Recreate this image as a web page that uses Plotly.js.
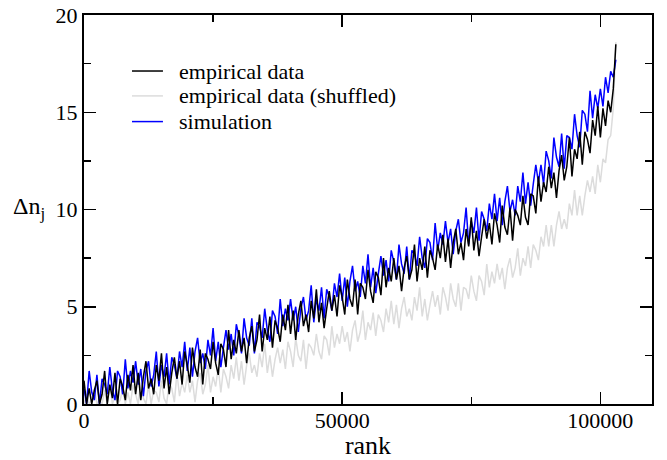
<!DOCTYPE html>
<html>
<head>
<meta charset="utf-8">
<script src="https://cdn.plot.ly/plotly-3.0.1.min.js"></script>
<style>
  html, body { margin: 0; padding: 0; background: #fff; }
  #chart { width: 667px; height: 460px; }
  #chart svg text, #chart svg tspan { font-family: 'Liberation Serif', 'Times New Roman', serif !important; }
  #fontwarm { position: absolute; left: 610px; top: 446px; font-size: 9px; line-height: 10px; color: #fff; white-space: nowrap; }
</style>
</head>
<body>
<div id="chart"></div>
<div id="fontwarm"><span style="font-family:'Liberation Serif'">r</span><span style="font-family:'Times New Roman'">r</span><span style="font-family:serif">r</span></div>
<script>
// ranks: first rank and spacing between consecutive samples
const RANK_START = 0;
const RANK_STEP = 500;

const legendLabels = ['empirical data', 'empirical data (shuffled)', 'simulation'];
const seriesColors = ['#000000', '#dcdcdc', '#0000ff'];

const xTickVals = [0, 50000, 100000];
const yTickVals = [0, 5, 10, 15, 20];

// empirical data (black), one value per RANK_STEP
const empirical = [
  1.2, 0.0, 0.8, 0.0, 0.7, 1.2, 0.0, 0.5, 1.7, 0.0,
  1.0, 0.3, 1.6, 0.0, 1.3, 0.9, 0.2, 1.5, 0.7, 2.0,
  0.5, 1.6, 0.2, 1.4, 2.2, 0.8, 1.3, 0.5, 2.0, 1.2,
  2.6, 0.8, 1.9, 0.5, 1.6, 2.4, 1.3, 2.2, 1.0, 2.7,
  2.0, 1.1, 2.9, 1.9, 1.4, 2.8, 1.0, 2.6, 2.3, 1.8,
  3.2, 2.1, 1.5, 3.1, 2.8, 1.9, 3.8, 2.3, 3.3, 2.6,
  3.8, 2.7, 3.4, 2.1, 3.4, 4.0, 2.7, 3.3, 4.6, 2.7,
  3.9, 3.3, 4.5, 2.9, 4.3, 3.9, 3.2, 4.6, 3.8, 5.1,
  3.6, 4.8, 3.3, 4.6, 5.3, 4.0, 4.6, 3.7, 5.3, 4.4,
  5.9, 4.2, 5.2, 3.9, 4.9, 5.8, 4.8, 5.6, 4.5, 6.1,
  5.5, 4.6, 6.4, 5.4, 5.0, 6.4, 4.6, 6.2, 6.0, 5.4,
  6.9, 5.8, 5.2, 6.8, 6.5, 5.6, 7.5, 6.0, 7.0, 6.3,
  7.5, 6.4, 7.1, 5.8, 7.0, 7.6, 6.4, 6.9, 8.2, 6.3,
  7.5, 6.9, 8.1, 6.5, 7.9, 7.5, 6.9, 8.2, 7.5, 8.7,
  7.3, 8.5, 7.0, 8.3, 9.0, 7.7, 8.3, 7.4, 9.0, 8.1,
  9.6, 7.9, 8.9, 7.6, 8.6, 9.5, 8.5, 9.3, 8.2, 9.8,
  9.2, 8.3, 10.2, 9.1, 8.7, 10.1, 8.4, 10.0, 9.7, 9.2,
  10.7, 9.6, 9.2, 10.8, 10.7, 9.8, 11.7, 10.4, 11.4, 10.9,
  12.2, 11.1, 11.9, 10.6, 12.0, 12.8, 11.5, 12.2, 13.7, 11.7,
  13.1, 12.6, 14.0, 12.3, 14.0, 13.6, 12.9, 14.6, 13.8, 15.3,
  13.7, 15.2, 14.3, 15.6, 15.0, 16.2, 18.5
];

// empirical data (shuffled) (light gray)
const shuffled = [
  0.0, 0.5, 0.0, 0.2, 0.8, 0.0, 0.2, 0.0, 0.7, 0.0,
  1.1, 0.0, 0.4, 0.0, 0.2, 0.8, 0.0, 0.6, 0.0, 1.0,
  0.5, 0.0, 1.1, 0.3, 0.0, 1.0, 0.0, 0.7, 0.6, 0.1,
  1.2, 0.3, 0.0, 1.1, 0.8, 0.1, 1.6, 0.4, 1.1, 0.6,
  1.5, 0.6, 1.2, 0.1, 1.2, 1.6, 0.5, 1.0, 2.0, 0.6,
  1.4, 0.9, 1.9, 0.6, 1.8, 1.4, 0.8, 2.0, 1.3, 2.4,
  1.2, 2.2, 1.0, 2.0, 2.6, 1.6, 2.0, 1.4, 2.6, 1.9,
  3.1, 1.6, 2.5, 1.4, 2.3, 2.9, 2.1, 2.8, 1.8, 3.2,
  2.7, 1.9, 3.4, 2.5, 2.2, 3.3, 1.8, 3.1, 2.9, 2.5,
  3.6, 2.7, 2.3, 3.5, 3.3, 2.5, 4.0, 2.9, 3.6, 3.1,
  4.0, 3.2, 3.7, 2.7, 3.8, 4.3, 3.2, 3.7, 4.8, 3.3,
  4.2, 3.8, 4.7, 3.5, 4.6, 4.3, 3.7, 4.9, 4.2, 5.3,
  4.1, 5.1, 3.9, 4.9, 5.5, 4.5, 4.9, 4.3, 5.5, 4.8,
  6.0, 4.5, 5.4, 4.3, 5.1, 5.8, 5.0, 5.6, 4.6, 6.0,
  5.5, 4.8, 6.2, 5.4, 5.0, 6.2, 4.8, 6.0, 5.9, 5.4,
  6.6, 5.8, 5.3, 6.6, 6.3, 5.6, 7.2, 6.0, 6.8, 6.2,
  7.2, 6.4, 7.0, 5.9, 7.0, 7.5, 6.5, 7.0, 8.0, 6.6,
  7.5, 7.1, 8.1, 7.0, 8.2, 7.9, 7.4, 8.6, 8.1, 9.2,
  8.1, 9.2, 8.1, 9.2, 9.9, 9.0, 9.5, 9.0, 10.3, 9.7,
  11.0, 9.7, 10.7, 9.7, 10.7, 11.5, 10.9, 11.7, 10.8, 12.3,
  11.4, 12.6, 12.4, 13.6, 13.8, 15.2, 18.6
];

// simulation (blue)
const simulation = [
  0.8, 0.0, 1.7, 0.6, 0.2, 1.5, 0.0, 1.3, 1.0, 0.5,
  1.9, 0.7, 0.2, 1.7, 1.4, 0.5, 2.3, 0.8, 1.7, 1.1,
  2.2, 1.0, 1.8, 0.4, 1.7, 2.2, 0.9, 1.5, 2.7, 0.9,
  2.0, 1.4, 2.6, 1.0, 2.4, 2.0, 1.3, 2.7, 1.9, 3.2,
  1.7, 2.9, 1.4, 2.7, 3.4, 2.1, 2.6, 1.8, 3.3, 2.5,
  3.9, 2.2, 3.2, 1.9, 2.9, 3.8, 2.8, 3.6, 2.5, 4.1,
  3.5, 2.6, 4.4, 3.4, 3.0, 4.4, 2.6, 4.2, 4.0, 3.4,
  4.9, 3.8, 3.2, 4.8, 4.5, 3.6, 5.4, 4.0, 4.9, 4.3,
  5.4, 4.3, 5.0, 3.7, 4.9, 5.5, 4.3, 4.8, 6.1, 4.2,
  5.4, 4.8, 6.0, 4.4, 5.9, 5.5, 4.8, 6.2, 5.5, 6.7,
  5.3, 6.5, 5.0, 6.3, 7.1, 5.8, 6.3, 5.5, 7.1, 6.2,
  7.7, 6.0, 7.0, 5.7, 6.7, 7.6, 6.6, 7.4, 6.3, 7.9,
  7.3, 6.4, 8.2, 7.2, 6.7, 8.1, 6.4, 7.9, 7.7, 7.1,
  8.6, 7.5, 7.0, 8.5, 8.3, 7.4, 9.3, 7.9, 8.8, 8.2,
  9.4, 8.3, 9.0, 7.7, 8.9, 9.5, 8.3, 8.8, 10.1, 8.2,
  9.4, 8.8, 10.1, 8.4, 9.9, 9.5, 8.9, 10.3, 9.5, 10.8,
  9.4, 10.6, 9.2, 10.4, 11.2, 9.9, 10.5, 9.7, 11.2, 10.4,
  11.9, 10.3, 11.4, 10.2, 11.3, 12.3, 11.4, 12.3, 11.3, 13.0,
  12.5, 11.6, 13.7, 12.7, 12.2, 13.9, 12.1, 13.8, 13.7, 13.1,
  14.9, 13.8, 13.2, 15.1, 14.9, 14.0, 16.1, 14.7, 15.9, 15.2,
  16.2, 15.3, 16.8, 16.0, 17.1, 16.8, 17.7
];

const FONT = 'Liberation Serif';

function lineTrace(y, idx, width) {
  return {
    type: 'scatter', mode: 'lines',
    x0: RANK_START, dx: RANK_STEP, y: y,
    name: legendLabels[idx],
    line: { color: seriesColors[idx], width: width },
    showlegend: false, hoverinfo: 'skip'
  };
}

const traces = [
  lineTrace(shuffled, 1, 1.5),
  lineTrace(simulation, 2, 1.5),
  lineTrace(empirical, 0, 1.5)
];

// manual legend (sample line + label), placed in paper coordinates
const legendOrder = [0, 1, 2];
const legY = [0.856, 0.792, 0.726];
const shapes = [];
const annotations = [];
legendOrder.forEach((idx, k) => {
  shapes.push({
    type: 'line', xref: 'paper', yref: 'paper',
    x0: 0.0845, x1: 0.139, y0: legY[k], y1: legY[k],
    line: { color: seriesColors[idx], width: 1.5 }
  });
  annotations.push({
    xref: 'paper', yref: 'paper', x: 0.163, y: legY[k],
    xanchor: 'left', yanchor: 'middle', showarrow: false,
    text: legendLabels[idx], font: { family: FONT, size: 22, color: '#000' }
  });
});
annotations.push({
  xref: 'paper', yref: 'paper', x: -0.128, y: 0.505,
  xanchor: 'left', yanchor: 'middle', showarrow: false,
  text: '&#916;n<sub>j</sub>', font: { family: FONT, size: 24, color: '#000' }
});

const axisCommon = {
  ticks: 'inside', ticklen: 12, tickwidth: 1.5, tickcolor: '#000',
  showline: true, linewidth: 2, linecolor: '#000', mirror: 'allticks',
  showgrid: false, zeroline: false,
  tickfont: { family: FONT, size: 22, color: '#000' }
};

const layout = {
  width: 667, height: 460,
  margin: { l: 84, r: 15, t: 15, b: 56 },
  paper_bgcolor: '#fff', plot_bgcolor: '#fff',
  font: { family: FONT, size: 22, color: '#000' },
  xaxis: Object.assign({}, axisCommon, {
    range: [0, 110000], tickmode: 'array', tickvals: xTickVals,
    ticktext: xTickVals.map(String), ticklabelstandoff: -4,
    minor: { dtick: 25000, tick0: 0, ticks: 'inside', ticklen: 7, tickwidth: 1.5, tickcolor: '#000', showgrid: false },
    title: { text: 'rank', font: { family: FONT, size: 26, color: '#000' }, standoff: 0 }
  }),
  yaxis: Object.assign({}, axisCommon, {
    range: [0, 20], tickmode: 'array', tickvals: yTickVals,
    ticktext: yTickVals.map(String),
    minor: { dtick: 2.5, tick0: 0, ticks: 'inside', ticklen: 7, tickwidth: 1.5, tickcolor: '#000', showgrid: false }
  }),
  shapes: shapes,
  annotations: annotations,
  showlegend: false
};

Plotly.newPlot('chart', traces, layout, { displayModeBar: false, staticPlot: true });
if (document.fonts && document.fonts.load) {
  document.fonts.load('22px "Liberation Serif"').then(function () {
    Plotly.relayout('chart', {});
  }).catch(function () {});
}
</script>
</body>
</html>
